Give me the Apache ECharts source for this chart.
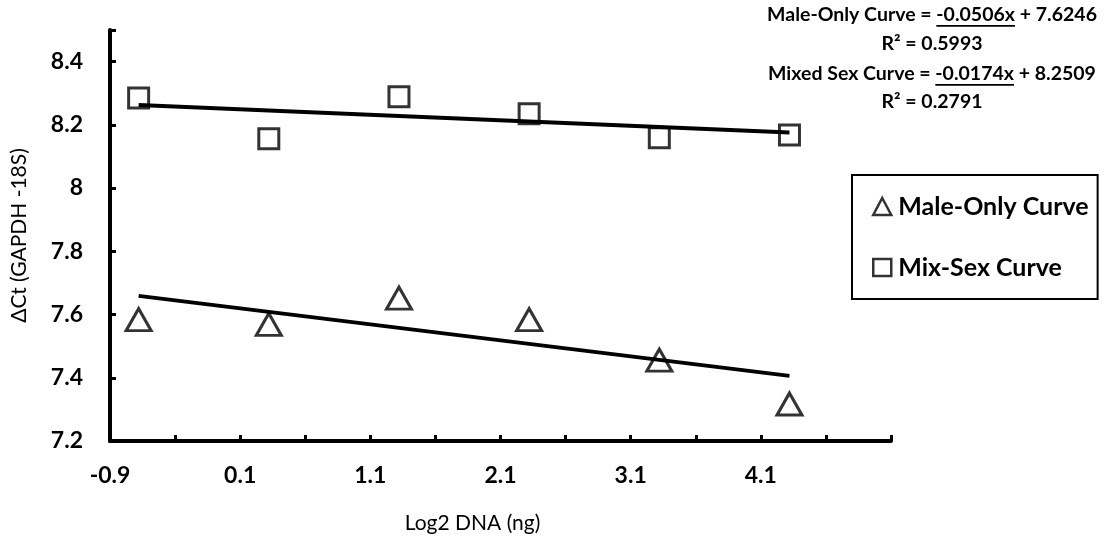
<!DOCTYPE html>
<html>
<head>
<meta charset="utf-8">
<script src="https://cdn.jsdelivr.net/npm/echarts@6/dist/echarts.min.js"></script>
<style>
  html, body { margin: 0; padding: 0; background: #fff; }
  #chart { width: 1105px; height: 542px; }
</style>
</head>
<body>
<div id="chart"></div>
<script>
// values
const log2Dna = [-0.68, 0.32, 1.32, 2.32, 3.32, 4.32]
const maleOnly = [7.584, 7.569, 7.652, 7.584, 7.456, 7.317]
const mixedSex = [8.285, 8.156, 8.289, 8.235, 8.159, 8.168]
// trend line ends as drawn
const maleTrendX = [-0.68, 4.32]
const maleTrendY = [7.659, 7.406]
const mixedTrendX = [-0.68, 4.32]
const mixedTrendY = [8.263, 8.176]

const seriesNames = ['Male-Only Curve', 'Mix-Sex Curve']
const eqPre = ['Male-Only Curve = ', 'R² = 0.5993', 'Mixed Sex Curve = ', 'R² = 0.2791']
const eqUnder = ['-0.0506x', '', '-0.0174x', '']
const eqPost = [' + 7.6246', '', ' + 8.2509', '']
const eqLineY = [15, 44, 74, 102]

const FONT = 'Lato'
const eqFont = 'bold 19.5px ' + FONT
const eqCenterX = 932

const ctx = document.createElement('canvas').getContext('2d')
const textWidth = (s, font) => {
  ctx.font = font
  return ctx.measureText(s).width
}

const pairs = (xs, ys) => xs.map((x, i) => [x, ys[i]])

const graphics = []
eqPre.forEach((pre, i) => {
  const full = pre + eqUnder[i] + eqPost[i]
  graphics.push({
    type: 'text',
    x: eqCenterX,
    y: eqLineY[i],
    style: {
      text: full,
      font: eqFont,
      fill: '#000',
      align: 'center',
      verticalAlign: 'middle'
    }
  })
  if (eqUnder[i]) {
    const total = textWidth(full, eqFont)
    const preW = textWidth(pre, eqFont)
    const underW = textWidth(eqUnder[i], eqFont)
    graphics.push({
      type: 'rect',
      shape: { x: eqCenterX - total / 2 + preW, y: eqLineY[i] + 10, width: underW, height: 1.8 },
      style: { fill: '#000' }
    })
  }
})

const chart = echarts.init(document.getElementById('chart'))

const isOnGrid = (v, start, step) => Math.abs(((v - start) / step) - Math.round((v - start) / step)) < 1e-6

const option = {
  animation: false,
  backgroundColor: '#fff',
  grid: {
    left: 110,
    right: 214,
    top: 30,
    bottom: 101,
    containLabel: false,
    outerBoundsMode: 'none'
  },
  xAxis: {
    type: 'value',
    min: -0.9,
    max: 5.1,
    interval: 0.5,
    name: 'Log2 DNA (ng)',
    nameLocation: 'middle',
    nameGap: 72,
    nameTextStyle: { fontFamily: FONT, fontSize: 21, color: '#000', padding: [0, 56, 0, 0] },
    axisLine: { onZero: false, lineStyle: { color: '#000', width: 4 } },
    axisTick: { inside: true, length: 6, lineStyle: { color: '#000', width: 3 } },
    axisLabel: {
      margin: 23,
      fontFamily: FONT,
      fontSize: 23,
      fontWeight: 'bold',
      color: '#000',
      formatter: v => (isOnGrid(v, -0.9, 1) && v < 4.5) ? v.toFixed(1) : ''
    },
    splitLine: { show: false }
  },
  yAxis: {
    type: 'value',
    min: 7.2,
    max: 8.5,
    interval: 0.2,
    name: 'ΔCt (GAPDH -18S)',
    nameLocation: 'middle',
    nameGap: 80,
    nameTextStyle: { fontFamily: FONT, fontSize: 21, color: '#000' },
    axisLine: { onZero: false, lineStyle: { color: '#000', width: 4 } },
    axisTick: { inside: true, length: 6, lineStyle: { color: '#000', width: 3 } },
    axisLabel: {
      margin: 27,
      fontFamily: FONT,
      fontSize: 23,
      fontWeight: 'bold',
      color: '#000',
      formatter: v => (isOnGrid(v, 7.2, 0.2) && v < 8.45) ? String(Math.round(v * 10) / 10) : ''
    },
    splitLine: { show: false }
  },
  legend: {
    orient: 'vertical',
    left: 852,
    top: 175,
    padding: [19, 9, 19, 20],
    itemGap: 36,
    itemWidth: 18,
    itemHeight: 17,
    borderColor: '#000',
    borderWidth: 2,
    borderRadius: 0,
    textStyle: { fontFamily: FONT, fontSize: 25, fontWeight: 'bold', color: '#000', padding: [0, 0, 0, 2] },
    data: [
      { name: seriesNames[0], icon: 'triangle', itemStyle: { color: '#fff', borderColor: '#000', borderWidth: 2.5 } },
      { name: seriesNames[1], icon: 'rect', itemStyle: { color: '#fff', borderColor: '#000', borderWidth: 2.5 } }
    ]
  },
  graphic: graphics,
  series: [
    {
      name: seriesNames[0],
      type: 'scatter',
      symbol: 'triangle',
      symbolSize: [25, 22],
      itemStyle: { color: '#fff', borderColor: '#000', borderWidth: 3 },
      data: pairs(log2Dna, maleOnly),
      z: 2
    },
    {
      name: seriesNames[1],
      type: 'scatter',
      symbol: 'rect',
      symbolSize: 20,
      itemStyle: { color: '#fff', borderColor: '#000', borderWidth: 3 },
      data: pairs(log2Dna, mixedSex),
      z: 2
    },
    {
      name: 'male trend',
      type: 'line',
      symbol: 'none',
      lineStyle: { color: '#000', width: 4 },
      data: pairs(maleTrendX, maleTrendY),
      z: 3,
      silent: true
    },
    {
      name: 'mixed trend',
      type: 'line',
      symbol: 'none',
      lineStyle: { color: '#000', width: 4 },
      data: pairs(mixedTrendX, mixedTrendY),
      z: 3,
      silent: true
    }
  ]
}

chart.setOption(option)
</script>
</body>
</html>
